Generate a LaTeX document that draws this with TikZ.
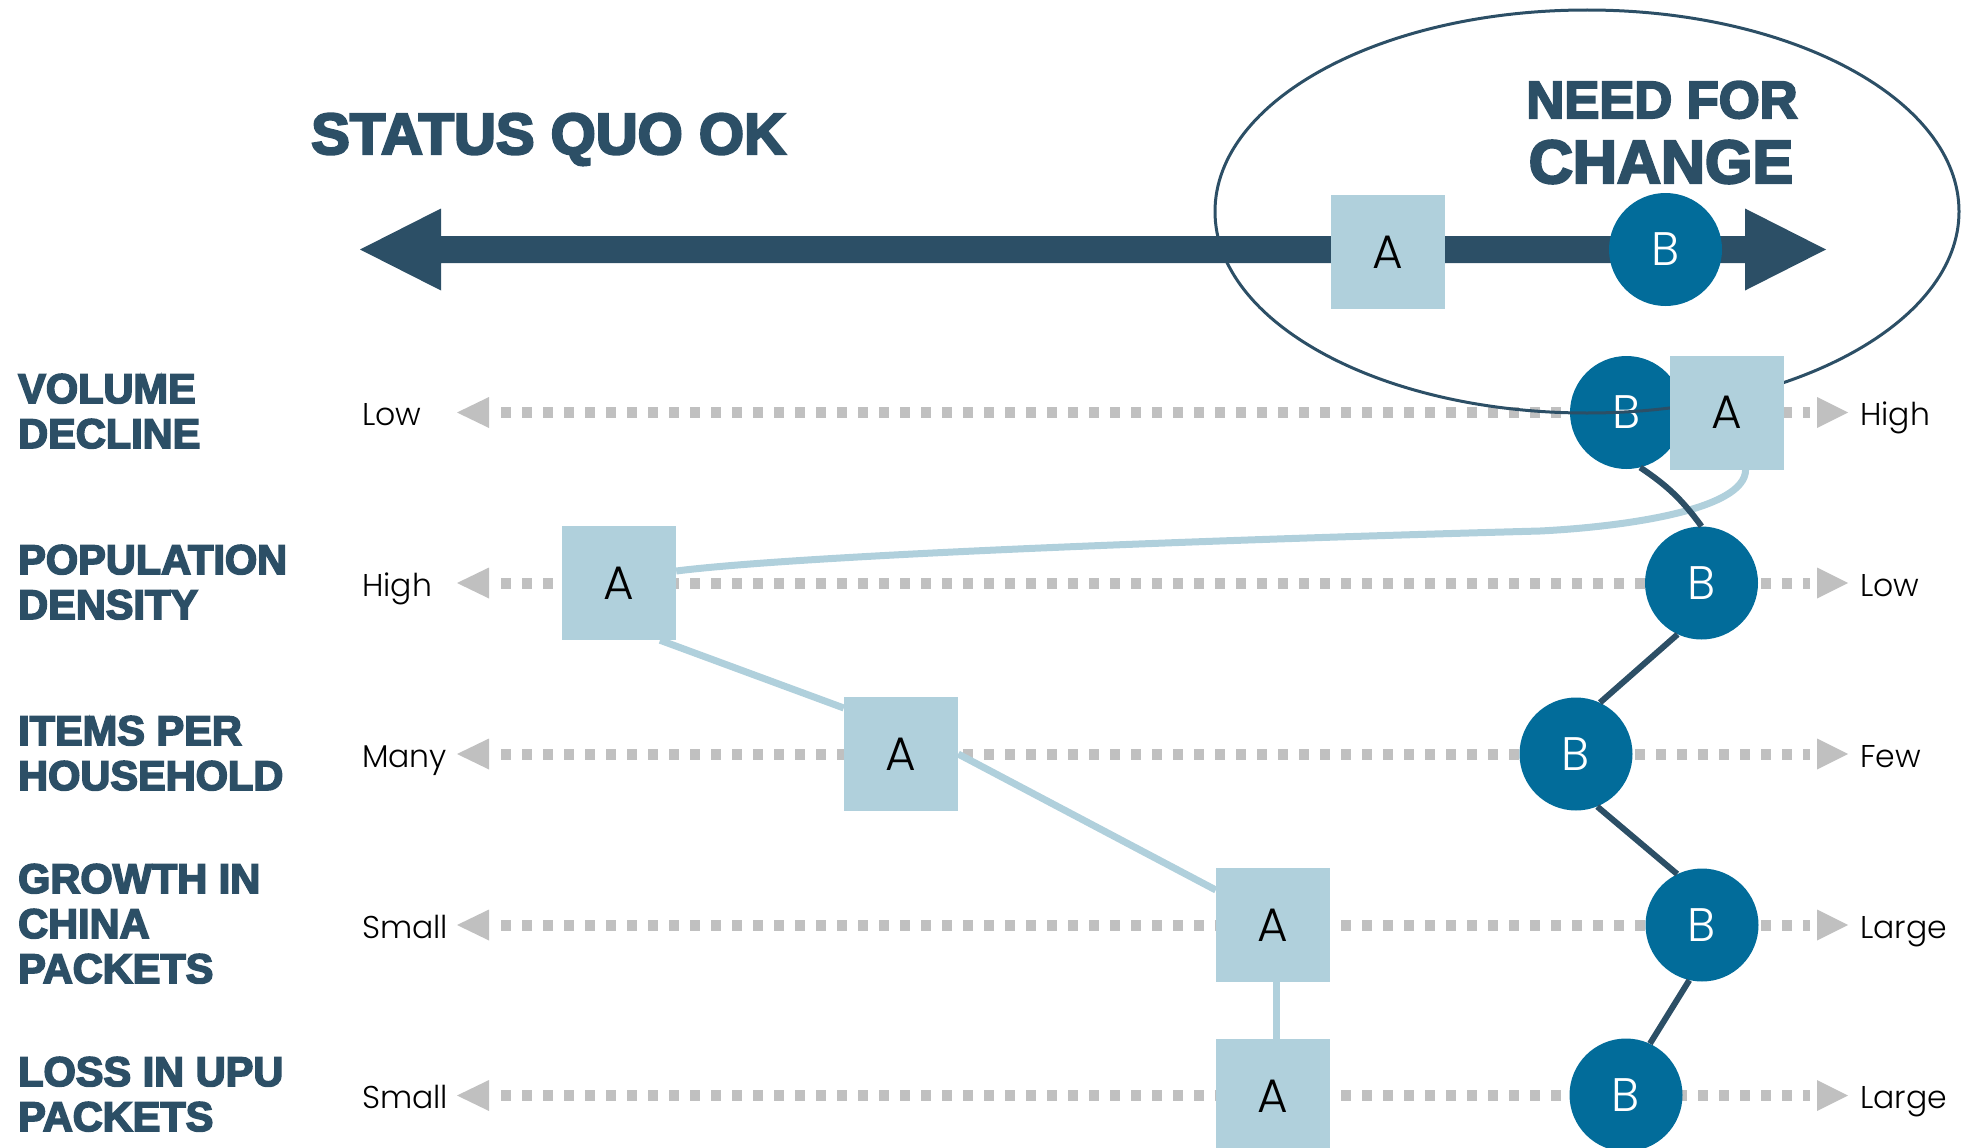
\documentclass[tikz,border=0pt]{standalone}
\usepackage{fontspec}
\usetikzlibrary{calc}
\newfontfamily\heavyfont[FakeBold=4]{Liberation Sans Bold}
\newfontfamily\thinfont{Poppins Light}
\definecolor{navy}{RGB}{44,79,102}
\definecolor{bblue}{RGB}{2,108,154}
\definecolor{ablue}{RGB}{176,208,220}
\definecolor{dotgray}{RGB}{192,192,192}
\tikzset{
  anode/.style={fill=ablue, minimum size=114pt, inner sep=0pt, text=black, font=\thinfont\fontsize{47}{47}\selectfont},
  bnode/.style={circle, fill=bblue, minimum size=113pt, inner sep=0pt, text=white, font=\thinfont\fontsize{47}{47}\selectfont},
  lbl/.style={anchor=base west, inner sep=0pt, text=navy, font=\heavyfont\fontsize{41.5}{41.5}\selectfont},
  title/.style={anchor=base, inner sep=0pt, text=navy, font=\heavyfont\fontsize{#1}{#1}\selectfont},
  axl/.style={anchor=base west, inner sep=0pt, text=black, font=\thinfont\fontsize{31.5}{31.5}\selectfont},
  dotline/.style={draw=dotgray, line width=11pt, dash pattern=on 10pt off 11pt},
  dothead/.style={fill=dotgray},
  bline/.style={draw=navy, line width=6pt},
  aline/.style={draw=ablue, line width=7pt},
}
\begin{document}
\begin{tikzpicture}[x=1pt, y=-1pt]
\useasboundingbox (0,0) rectangle (1973,1148);

% titles
\node[title=58, anchor=base west] (tsq) at (311,154) {STATUS QUO OK};
\node[title=52.5] (tnf) at (1662,118) {NEED FOR};
\node[title=61] (tch) at (1661,183) {CHANGE};

% main double arrow
\coordinate (ML) at (360,249.5);
\coordinate (MR) at (1826,249.5);
\fill[navy] (ML) -- (441,208.5) -- (441,236) -- (1745,236) -- (1745,208.5) -- (MR)
  -- (1745,290.5) -- (1745,263) -- (441,263) -- (441,290.5) -- cycle;

% row guide lines
\foreach \i/\y in {1/412.5,2/583,3/754,4/925,5/1095.5}{
  \coordinate (L\i) at (457,\y);
  \coordinate (R\i) at (1848,\y);
  \draw[dotline] ($(L\i)+(44,0)$) -- ($(R\i)+(-38,0)$);
  \fill[dothead] (L\i) -- ++(32,-15.5) -- ++(0,31) -- cycle;
  \fill[dothead] (R\i) -- ++(-31,-15.5) -- ++(0,31) -- cycle;
}

% left category labels
\node[lbl] (v1) at (18,403) {VOLUME};
\node[lbl] (v2) at (18,448) {DECLINE};
\node[lbl] (p1) at (18,574) {POPULATION};
\node[lbl] (p2) at (18,619) {DENSITY};
\node[lbl] (i1) at (18,745) {ITEMS PER};
\node[lbl] (i2) at (18,790) {HOUSEHOLD};
\node[lbl] (g1) at (18,893) {GROWTH IN};
\node[lbl] (g2) at (18,938) {CHINA};
\node[lbl] (g3) at (18,983) {PACKETS};
\node[lbl] (u1) at (18,1086) {LOSS IN UPU};
\node[lbl] (u2) at (18,1131) {PACKETS};

% axis end labels
\node[axl] (lo1) at (362,425.5) {Low};
\node[axl] (hi1) at (1860,425.5) {High};
\node[axl] (lo2) at (362,596) {High};
\node[axl] (hi2) at (1860,596) {Low};
\node[axl] (lo3) at (362,767) {Many};
\node[axl] (hi3) at (1860,767) {Few};
\node[axl] (lo4) at (362,938) {Small};
\node[axl] (hi4) at (1860,938) {Large};
\node[axl] (lo5) at (362,1108) {Small};
\node[axl] (hi5) at (1860,1108) {Large};

% node positions
\coordinate (pA1) at (1727,412.5);
\coordinate (pB1) at (1626.5,412.5);
\node[anode] (A0) at (1388,252) {A};
\node[bnode] (B0) at (1665.5,249.5) {B};
\node[bnode] (B1) at (pB1) {B};
\node[anode] (A2) at (619,583) {A};
\node[bnode] (B2) at (1701.5,583) {B};
\node[anode] (A3) at (901,754) {A};
\node[bnode] (B3) at (1576,754) {B};
\node[anode] (A4) at (1273,925) {A};
\node[bnode] (B4) at (1702,925) {B};
\node[anode] (A5) at (1273,1096) {A};
\node[bnode] (B5) at (1626,1095) {B};

% oval round the change end
\draw[navy, line width=3pt] (1587,211.5) ellipse [x radius=372, y radius=201.5];

\node[anode] (A1) at (pA1) {A};

% A connectors
\draw[aline] (A1.-72) .. controls ($(A1.-72)+(0,41)$) and (1620,527) .. (1540,531)
  .. controls (1100,543) and (780,558) .. ($(A2.east)+(0,-12)$);
\draw[aline] ($(A2.south)+(41,0)$) -- ($(A3.west)+(0,-46)$);
\draw[aline] (A3.east) -- ($(A4.west)+(0,-35)$);
\draw[aline] ($(A4.south)+(3,0)$) -- ($(A5.north)+(3,0)$);

% B connectors
\draw[bline] (B1.-76) to[bend left=10] (B2.north);
\draw[bline] (B2.-115) -- (B3.65);
\draw[bline] (B3.-68) -- (B4.116);
\draw[bline] (B4.-103) -- (B5.65);
\end{tikzpicture}
\end{document}
